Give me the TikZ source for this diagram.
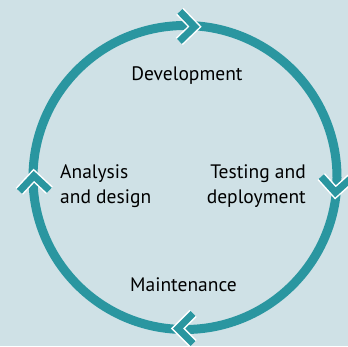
\documentclass[tikz,border=0pt]{standalone}
\usepackage{fontspec}
\setmainfont{PT Sans}
\usetikzlibrary{calc}
\definecolor{bg}{HTML}{CFE1E6}
\definecolor{ring}{HTML}{2A96A0}

\begin{document}
\begin{tikzpicture}[x=1pt,y=1pt,
    ring/.style={draw=ring, line width=9pt},
    chev/.style={draw=ring, line width=7pt, line join=miter,
        preaction={draw=white, line width=10pt}},
    lbl/.style={font=\fontsize{19.5}{25}\selectfont, inner sep=0pt}]
    \useasboundingbox (0,0) rectangle (348,346);
    \clip (0,0) rectangle (348,346);
    \fill[bg] (0,0) rectangle (348,346);
    \coordinate (c) at (185,168.5);

    \draw[ring] (c) circle (152);
    \foreach \a in {89,-3,270,182}
        \draw[chev, shift={(c)}, shift={(\a:151)}, rotate=\a-90]
            (-8,15) -- (7,0) -- (-8,-15);

    \node[lbl, anchor=base] (dev) at (187,265) {Development};
    \node[lbl, anchor=base] (maint) at (183.5,55) {Maintenance};
    \node[lbl, anchor=base west, align=left] (anal) at (60,143) {Analysis\\and design};
    \node[lbl, anchor=base east, align=right] (test) at (306,143) {Testing and\\deployment};
\end{tikzpicture}
\end{document}
